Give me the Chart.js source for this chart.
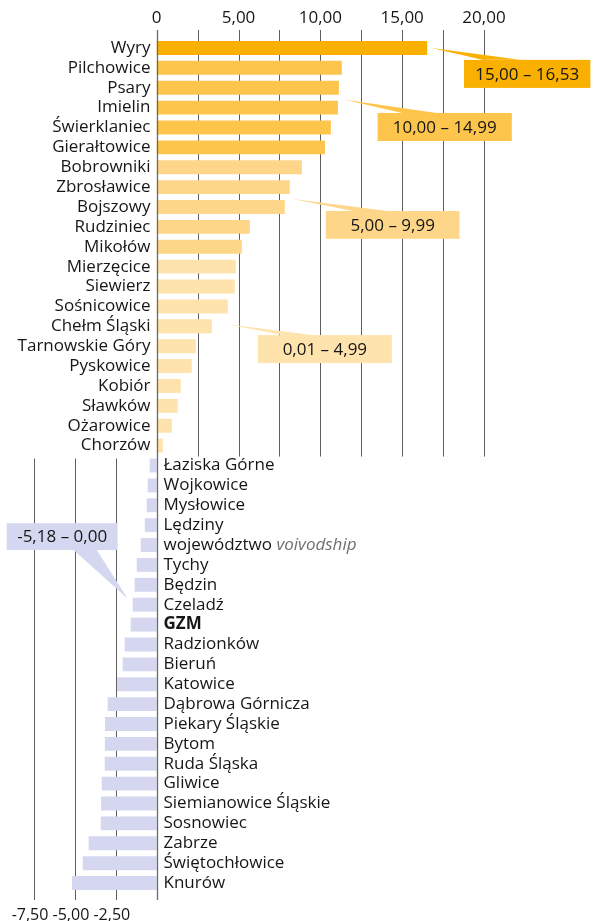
<!DOCTYPE html>
<html>
<head>
<meta charset="utf-8">
<script src="https://cdn.jsdelivr.net/npm/chart.js@4"></script>
<style>
  html, body { margin: 0; padding: 0; background: #fff; }
  #wrap { width: 595px; height: 921px; }
</style>
</head>
<body>
<div id="wrap"><canvas id="chart" width="595" height="921"></canvas></div>
<script>
// gminy with growth above zero
const topCities = ["Wyry", "Pilchowice", "Psary", "Imielin", "Świerklaniec", "Gierałtowice",
  "Bobrowniki", "Zbrosławice", "Bojszowy", "Rudziniec", "Mikołów", "Mierzęcice", "Siewierz",
  "Sośnicowice", "Chełm Śląski", "Tarnowskie Góry", "Pyskowice", "Kobiór", "Sławków",
  "Ożarowice", "Chorzów"];
const topValues = [16.53, 11.31, 11.13, 11.07, 10.64, 10.28, 8.87, 8.13, 7.83, 5.69, 5.20,
  4.83, 4.77, 4.34, 3.36, 2.39, 2.14, 1.47, 1.28, 0.92, 0.37];

// gminy with decline
const bottomCities = ["Łaziska Górne", "Wojkowice", "Mysłowice", "Lędziny", "województwo",
  "Tychy", "Będzin", "Czeladź", "GZM", "Radzionków", "Bieruń", "Katowice", "Dąbrowa Górnicza",
  "Piekary Śląskie", "Bytom", "Ruda Śląska", "Gliwice", "Siemianowice Śląskie", "Sosnowiec",
  "Zabrze", "Świętochłowice", "Knurów"];
const bottomValues = [-0.43, -0.55, -0.61, -0.73, -0.98, -1.22, -1.35, -1.47, -1.59, -1.96,
  -2.08, -2.43, -3.00, -3.16, -3.17, -3.18, -3.36, -3.40, -3.42, -4.16, -4.52, -5.18];

const topTicks = [0, 5, 10, 15, 20];
const bottomTicks = [-7.5, -5, -2.5];
const rangeLabels = ["15,00 – 16,53", "10,00 – 14,99", "5,00 – 9,99", "0,01 – 4,99", "-5,18 – 0,00"];
const rangeColors = ["#f9b000", "#fdc54b", "#fed689", "#fee3ad", "#d5d7f0"];

const labels = topCities.concat(bottomCities);
const values = topValues.concat(bottomValues);

function colorFor(v) {
  if (v >= 15) return rangeColors[0];
  if (v >= 10) return rangeColors[1];
  if (v >= 5) return rangeColors[2];
  if (v > 0) return rangeColors[3];
  return rangeColors[4];
}

// callout boxes: x in value units, y in category index units
const callouts = [
  { box: [18.78, 26.5, 0.6, 2.01], tip: [16.8, 0], base: [19.9, 22.2, 0.6] },
  { box: [13.5, 21.7, 3.27, 4.68], tip: [11.5, 2.6], base: [15.0, 17.1, 3.27] },
  { box: [10.34, 18.5, 8.2, 9.6], tip: [8.3, 7.6], base: [12.0, 14.1, 8.2] },
  { box: [6.18, 14.37, 14.44, 15.85], tip: [4.28, 13.9], base: [7.7, 9.5, 14.44] },
  { box: [-9.17, -2.39, 23.9, 25.25], tip: [-1.77, 27.7], base: [-5.08, -3.67, 25.25] }
];

const FONT = '"Open Sans", sans-serif';
const SIZE = 17;
const INK = "#161615";
const fmt = v => v === 0 ? "0" : v.toFixed(2).replace(".", ",");

const drawPlugin = {
  id: "draw",
  beforeDatasetsDraw(chart) {
    const { ctx, chartArea, scales: { x, y } } = chart;
    const split = (y.getPixelForValue(topCities.length - 1) + y.getPixelForValue(topCities.length)) / 2;
    ctx.save();
    ctx.strokeStyle = "#5e5e5e";
    ctx.lineWidth = 1;
    const line = (v, y1, y2) => {
      const px = Math.round(x.getPixelForValue(v)) + 0.5;
      ctx.beginPath(); ctx.moveTo(px, y1); ctx.lineTo(px, y2); ctx.stroke();
    };
    for (let v = 2.5; v <= 20; v += 2.5) line(v, chartArea.top - 8, split + 1);
    for (let v = -2.5; v >= -7.5; v -= 2.5) line(v, split + 3, chartArea.bottom + 7);
    ctx.restore();
  },
  afterDatasetsDraw(chart) {
    const { ctx, chartArea, scales: { x, y } } = chart;
    ctx.save();
    // zero line
    const x0 = Math.round(x.getPixelForValue(0)) + 0.5;
    ctx.strokeStyle = "#6a6a6a";
    ctx.lineWidth = 1.3;
    ctx.beginPath(); ctx.moveTo(x0, chartArea.top - 8); ctx.lineTo(x0, chartArea.bottom + 7); ctx.stroke();

    // category labels
    ctx.fillStyle = INK;
    ctx.textBaseline = "middle";
    ctx.font = SIZE + "px " + FONT;
    ctx.textAlign = "right";
    topCities.forEach((c, i) => ctx.fillText(c, x0 - 7, y.getPixelForValue(i)));
    ctx.textAlign = "left";
    bottomCities.forEach((c, i) => {
      const py = y.getPixelForValue(topCities.length + i);
      if (c === "GZM") {
        ctx.font = "bold " + SIZE + "px " + FONT;
        ctx.fillText(c, x0 + 6, py);
        ctx.font = SIZE + "px " + FONT;
      } else if (c === "województwo") {
        ctx.fillText(c + " ", x0 + 6, py);
        const w = ctx.measureText(c + " ").width;
        ctx.font = "italic " + SIZE + "px " + FONT;
        ctx.fillStyle = "#6f6f6f";
        ctx.fillText("voivodship", x0 + 6 + w, py);
        ctx.font = SIZE + "px " + FONT;
        ctx.fillStyle = INK;
      } else {
        ctx.fillText(c, x0 + 6, py);
      }
    });

    // range callouts
    callouts.forEach((c, i) => {
      ctx.fillStyle = rangeColors[i];
      ctx.beginPath();
      ctx.moveTo(x.getPixelForValue(c.tip[0]), y.getPixelForValue(c.tip[1]));
      ctx.lineTo(x.getPixelForValue(c.base[0]), y.getPixelForValue(c.base[2]));
      ctx.lineTo(x.getPixelForValue(c.base[1]), y.getPixelForValue(c.base[2]));
      ctx.closePath();
      ctx.fill();
      const bx1 = x.getPixelForValue(c.box[0]), bx2 = x.getPixelForValue(c.box[1]);
      const by1 = y.getPixelForValue(c.box[2]), by2 = y.getPixelForValue(c.box[3]);
      ctx.fillRect(bx1, by1, bx2 - bx1, by2 - by1);
      ctx.fillStyle = INK;
      ctx.textAlign = "center";
      ctx.fillText(rangeLabels[i], (bx1 + bx2) / 2, (by1 + by2) / 2 + 1);
    });
    ctx.restore();
  }
};

new Chart(document.getElementById("chart"), {
  type: "bar",
  data: {
    labels: labels,
    datasets: [{
      data: values,
      backgroundColor: values.map(colorFor),
      borderWidth: 0,
      barPercentage: 0.7,
      categoryPercentage: 1
    }]
  },
  options: {
    indexAxis: "y",
    responsive: false,
    animation: false,
    events: [],
    layout: { padding: { left: 34, right: 111, top: 0, bottom: 0 } },
    plugins: { legend: { display: false }, tooltip: { enabled: false } },
    scales: {
      y: { display: false, offset: true },
      x: {
        position: "top",
        min: -7.5, max: 20,
        grid: { display: false },
        border: { display: false },
        afterFit: s => { s.height = 38; },
        ticks: {
          stepSize: 2.5, autoSkip: false, maxRotation: 0, padding: 2,
          color: INK, font: { family: FONT, size: SIZE },
          callback: v => topTicks.includes(v) ? fmt(v) : ""
        }
      },
      x2: {
        position: "bottom",
        axis: "x",
        min: -7.5, max: 20,
        grid: { display: false },
        border: { display: false },
        afterFit: s => { s.height = 28; },
        ticks: {
          stepSize: 2.5, autoSkip: false, maxRotation: 0, padding: 5, labelOffset: -4,
          color: INK, font: { family: FONT, size: 16 },
          callback: v => bottomTicks.includes(v) ? fmt(v) : ""
        }
      }
    }
  },
  plugins: [drawPlugin]
});
</script>
</body>
</html>
